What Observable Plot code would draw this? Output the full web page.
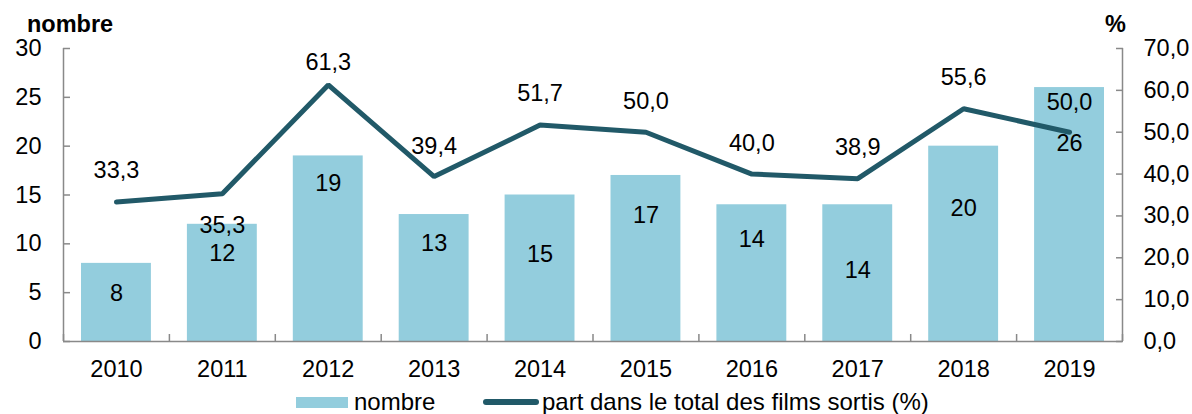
<!DOCTYPE html>
<html><head><meta charset="utf-8">
<script src="https://cdn.jsdelivr.net/npm/d3@7"></script>
<script src="https://cdn.jsdelivr.net/npm/@observablehq/plot@0.6"></script>
<style>
body{margin:0;background:#fff;font-family:"Liberation Sans",Arial,sans-serif;}
#wrap{position:relative;width:1192px;height:414px;overflow:hidden;}
#chart{position:absolute;left:0;top:0;}
.ov{position:absolute;white-space:nowrap;color:#000;}
.ttl{font-weight:bold;font-size:23.5px;line-height:23.5px;}
.leg{font-size:24px;line-height:24px;}
.sw{position:absolute;}
</style></head><body>
<div id="wrap">
  <div id="chart"></div>
  <div class="ov ttl" id="t-left" style="left:27px;top:13px;">nombre</div>
  <div class="ov ttl" id="t-right" style="left:1105px;top:13px;">%</div>
  <div class="sw" style="left:296px;top:397px;width:52px;height:11px;background:#93CDDD;"></div>
  <div class="ov leg" style="left:354px;top:390px;">nombre</div>
  <div class="sw" style="left:483px;top:399px;width:56px;height:6px;border-radius:3px;background:#215968;"></div>
  <div class="ov leg" style="left:542px;top:390px;">part dans le total des films sortis (%)</div>
</div>
<script>
const years = [2010, 2011, 2012, 2013, 2014, 2015, 2016, 2017, 2018, 2019];
const counts = [8, 12, 19, 13, 15, 17, 14, 14, 20, 26];
const shares = [33.3, 35.3, 61.3, 39.4, 51.7, 50.0, 40.0, 38.9, 55.6, 50.0];
const countTicks = [0, 5, 10, 15, 20, 25, 30];
const shareTicks = [0, 10, 20, 30, 40, 50, 60, 70];
// label anchor heights (in each series' own units), as placed in the original
const barLabelAt = [4.9, 9.0, 16.2, 10.0, 8.9, 12.9, 10.4, 7.3, 13.6, 20.3];
const shareLabelAt = [40.9, 27.8, 66.7, 46.6, 59.2, 57.3, 47.3, 46.3, 63.1, 57.1];

const countMax = 30, shareMax = 70;
const K = countMax / shareMax;
const data = years.map((year, i) => ({
  year, count: counts[i], share: shares[i], barLab: barLabelAt[i], shareLab: shareLabelAt[i]
}));
const x0 = d3.min(years) - 0.5, x1 = d3.max(years) + 0.5;
const bounds = d3.range(x0, x1 + 0.01, 1);
const fmt1 = v => v.toFixed(1).replace(".", ",");
const axisColor = "#898989";
const barColor = "#93CDDD";
const lineColor = "#215968";
const half = 0.33;
const fs = 23.5;

const chart = Plot.plot({
  width: 1192, height: 384,
  marginLeft: 63, marginRight: 70, marginTop: 48, marginBottom: 43,
  style: {fontFamily: '"Liberation Sans", Arial, sans-serif', fontSize: fs + "px", color: "#000", background: "#fff", overflow: "visible"},
  x: {type: "linear", domain: [x0, x1]},
  y: {domain: [0, countMax]},
  marks: [
    Plot.rectY(data, {x1: d => d.year - half, x2: d => d.year + half, y1: 0, y2: "count", fill: barColor}),
    Plot.lineY(data, {x: "year", y: d => d.share * K, stroke: lineColor, strokeWidth: 5, strokeLinecap: "round", strokeLinejoin: "miter"}),
    Plot.ruleY([0], {stroke: axisColor, strokeWidth: 1.5}),
    Plot.ruleX([x0, x1], {stroke: axisColor, strokeWidth: 1.5}),
    Plot.axisX({ticks: bounds, tickSize: -7, fill: "none", stroke: axisColor, strokeWidth: 1.5, label: null}),
    Plot.axisX({ticks: years, tickSize: 0, tickPadding: 19, tickFormat: d => String(d), fill: "#000", fontSize: fs, label: null}),
    Plot.axisY({anchor: "left", ticks: countTicks, tickSize: -7, fill: "none", stroke: axisColor, strokeWidth: 1.5, label: null}),
    Plot.axisY({anchor: "left", ticks: countTicks, tickSize: 0, tickPadding: 22, tickFormat: d => String(d), fill: "#000", fontSize: fs, label: null}),
    Plot.axisY({anchor: "right", ticks: shareTicks.map(v => v * K), tickSize: -7, fill: "none", stroke: axisColor, strokeWidth: 1.5, label: null}),
    Plot.axisY({anchor: "right", ticks: shareTicks.map(v => v * K), tickSize: 0, tickPadding: 21, tickFormat: d => fmt1(d / K), fill: "#000", fontSize: fs, label: null}),
    Plot.text(data, {x: "year", y: "barLab", text: d => String(d.count), fill: "#000", fontSize: fs}),
    Plot.text(data, {x: "year", y: d => d.shareLab * K, text: d => fmt1(d.share), fill: "#000", fontSize: fs})
  ]
});
document.getElementById("chart").appendChild(chart);
</script>
</body></html>
